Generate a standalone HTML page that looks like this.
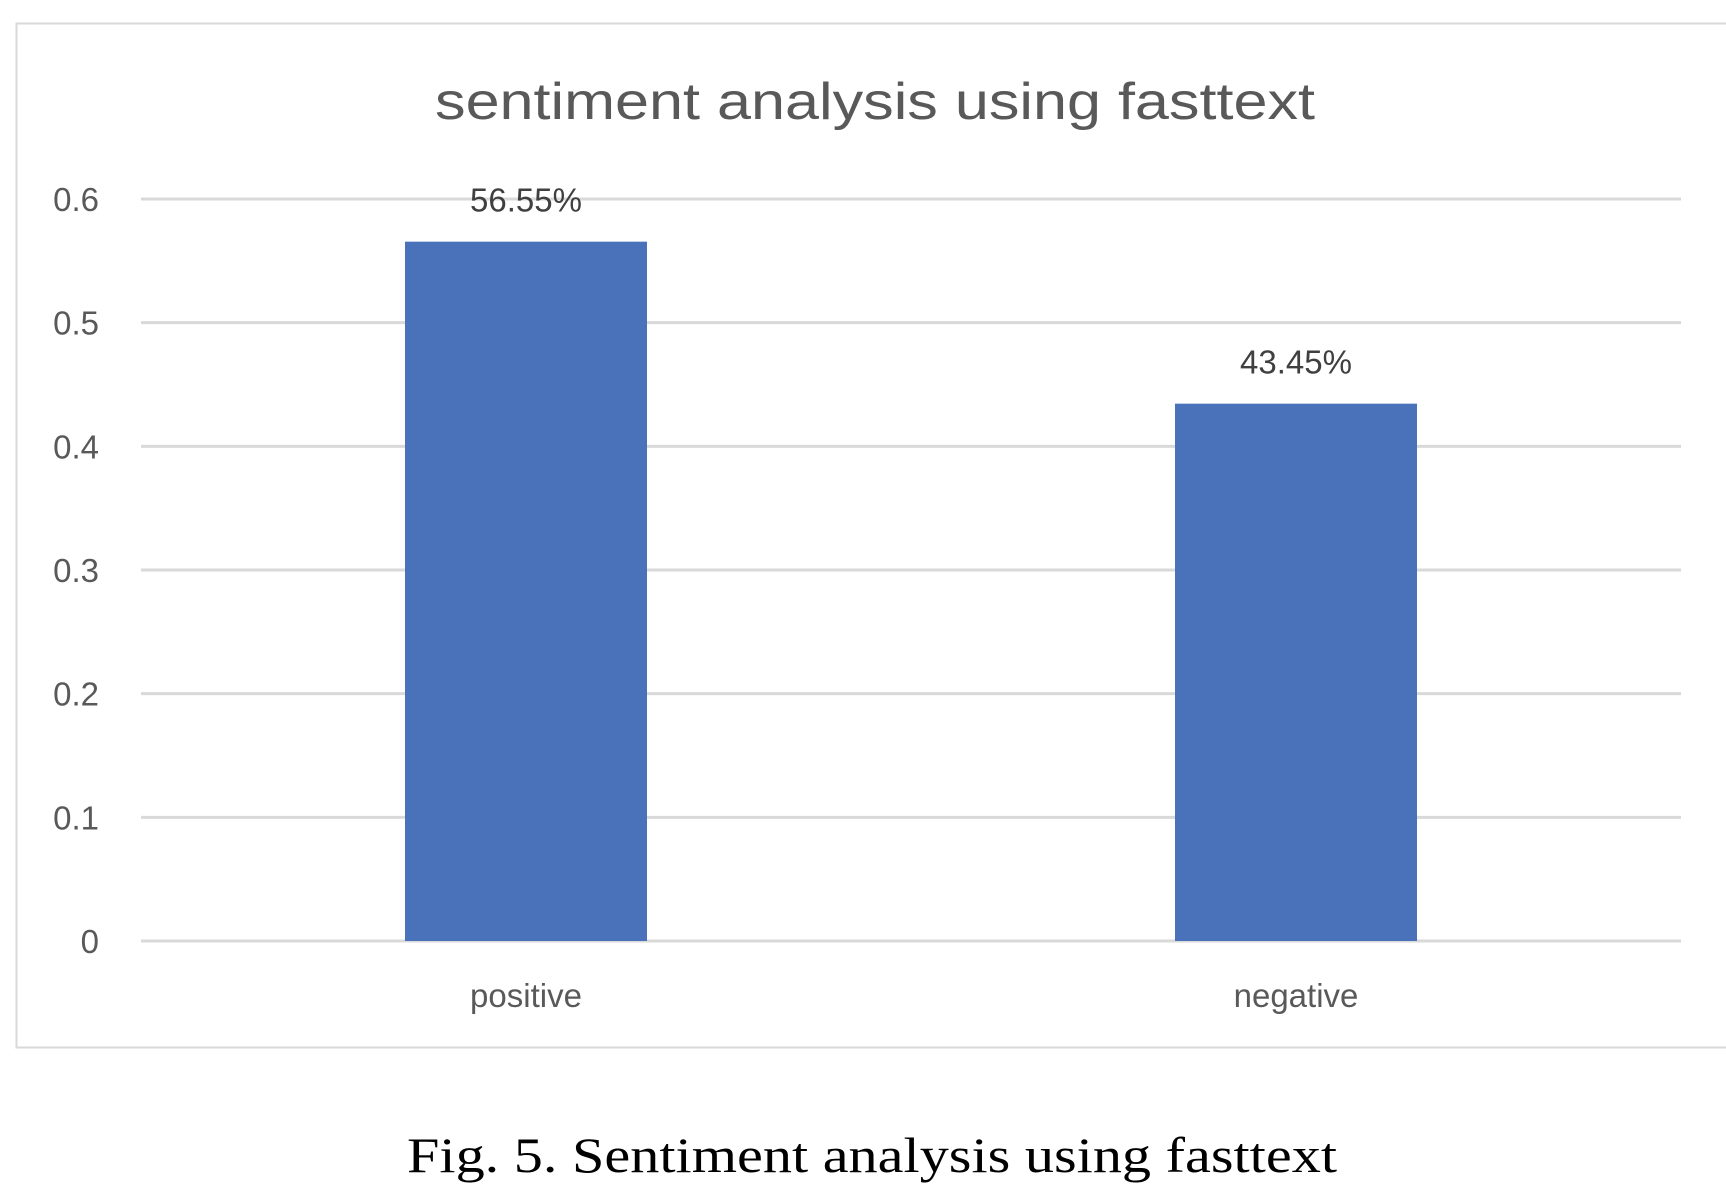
<!DOCTYPE html>
<html><head><meta charset="utf-8"><style>
html,body{margin:0;padding:0;background:#fff;width:1726px;height:1190px;overflow:hidden}
</style></head><body>
<svg id="chart" width="1726" height="1190" xmlns="http://www.w3.org/2000/svg" font-family="'Liberation Sans', sans-serif">
<rect x="16.5" y="23.5" width="1720" height="1024" fill="#fff" stroke="#d9d9d9" stroke-width="2"/>
<text x="875" y="119" text-anchor="middle" font-size="52" fill="#595959" textLength="880" lengthAdjust="spacingAndGlyphs">sentiment analysis using fasttext</text>
<g id="grid"></g>
<g id="bars"></g>
<text x="872" y="1172" text-anchor="middle" font-family="'Liberation Serif', serif" font-size="50" fill="#000" textLength="930" lengthAdjust="spacingAndGlyphs">Fig. 5.  Sentiment analysis using fasttext</text>
</svg>
<script>
const categories = ["positive", "negative"];
const values = [0.5655, 0.4345];
const valueLabels = ["56.55%", "43.45%"];
const ticks = [0, 0.1, 0.2, 0.3, 0.4, 0.5, 0.6];
const tickLabels = ["0", "0.1", "0.2", "0.3", "0.4", "0.5", "0.6"];

const NS = "http://www.w3.org/2000/svg";
const x0 = 141, x1 = 1681, yBase = 941, yTop = 199, yMax = 0.6;
const yScale = v => yBase - (v / yMax) * (yBase - yTop);
const band = (x1 - x0) / categories.length;
const barW = 242;
const xCenter = i => x0 + band * (i + 0.5);

const grid = document.getElementById('grid');
ticks.forEach((t, i) => {
  const y = yScale(t);
  const ln = document.createElementNS(NS, 'line');
  
  
  ln.setAttribute('x1', x0); ln.setAttribute('x2', x1);
  ln.setAttribute('y1', y); ln.setAttribute('y2', y);
  ln.setAttribute('stroke', '#d9d9d9'); ln.setAttribute('stroke-width', '3');
  grid.appendChild(ln);
  const tx = document.createElementNS(NS, 'text');
  
  
  tx.setAttribute('x', 99); tx.setAttribute('y', y + 12);
  tx.setAttribute('text-anchor', 'end');
  tx.setAttribute('font-size', '33'); tx.setAttribute('fill', '#595959');
  tx.textContent = tickLabels[i];
  grid.appendChild(tx);
});

const bars = document.getElementById('bars');
categories.forEach((c, i) => {
  const cx = xCenter(i);
  const y = yScale(values[i]);
  const r = document.createElementNS(NS, 'rect');
  
  
  r.setAttribute('x', cx - barW / 2); r.setAttribute('y', y);
  r.setAttribute('width', barW); r.setAttribute('height', yBase - y);
  r.setAttribute('fill', '#4a72bb');
  bars.appendChild(r);
  const vl = document.createElementNS(NS, 'text');
  
  
  vl.setAttribute('x', cx); vl.setAttribute('y', y - 30);
  vl.setAttribute('text-anchor', 'middle');
  vl.setAttribute('font-size', '33'); vl.setAttribute('fill', '#404040');
  vl.textContent = valueLabels[i];
  bars.appendChild(vl);
  const cl = document.createElementNS(NS, 'text');
  
  
  cl.setAttribute('x', cx); cl.setAttribute('y', 1007);
  cl.setAttribute('text-anchor', 'middle');
  cl.setAttribute('font-size', '33'); cl.setAttribute('fill', '#595959');
  cl.textContent = c;
  bars.appendChild(cl);
});
</script>
</body></html>
